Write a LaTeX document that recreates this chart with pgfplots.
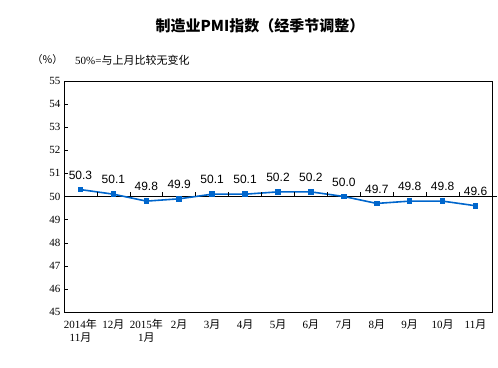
\documentclass[border=0pt]{standalone}
\usepackage{pgfplots}
\pgfplotsset{compat=1.18}
\usepackage{fontspec}
\setmainfont{Liberation Serif}
\newfontfamily\cjk{Noto Sans CJK SC}
\newfontfamily\arial{Liberation Sans}
\definecolor{lineblue}{RGB}{0,102,204}
\begin{document}
\begin{tikzpicture}
\useasboundingbox (0pt,0pt) rectangle (498pt,367pt);
\node[font=\cjk\bfseries\fontsize{15}{15}\selectfont] at (260pt,341pt) {制造业PMI指数（经季节调整）};
\node[font=\cjk\fontsize{10.5}{11}\selectfont, anchor=west, inner sep=0pt] at (32pt,307pt) {（\%）};
\node[font=\fontsize{11}{11}\selectfont, anchor=west, inner sep=0pt] at (75pt,307pt) {50\%={\cjk 与上月比较无变化}};
\begin{axis}[at={(64pt,55pt)}, anchor=south west, width=428pt, height=231pt, scale only axis,
  xmin=-0.5, xmax=12.5, ymin=45, ymax=55,
  ytick={45,...,55}, xtick={0,...,12},
  xticklabels={{2014{\cjk 年}\\11{\cjk 月}},{12{\cjk 月}},{2015{\cjk 年}\\1{\cjk 月}},{2{\cjk 月}},{3{\cjk 月}},{4{\cjk 月}},{5{\cjk 月}},{6{\cjk 月}},{7{\cjk 月}},{8{\cjk 月}},{9{\cjk 月}},{10{\cjk 月}},{11{\cjk 月}}},
  major x tick style={draw=none},
  x tick label style={align=center, font=\fontsize{11}{13}\selectfont, yshift=-4pt},
  y tick label style={font=\fontsize{11}{11}\selectfont},
  ytick style={black}, major tick length=4pt,
  tick align=inside,
  ytick pos=left,
  /pgf/number format/assume math mode=true,
  axis line style={black, line width=0.6pt},
  clip=false,
  nodes near coords, point meta=explicit symbolic,
  every node near coord/.append style={font=\arial\fontsize{12}{12}\selectfont, yshift=6pt, text=black},
]
\addplot[black, line width=0.6pt, forget plot, nodes near coords={}] coordinates {(-0.5,50) (12.65,50)};
\addplot[lineblue, line width=1.6pt, mark=square*, mark size=2pt, mark options={fill=lineblue}] coordinates {
(0,50.3)[50.3] (1,50.1)[50.1] (2,49.8)[49.8] (3,49.9)[49.9] (4,50.1)[50.1] (5,50.1)[50.1] (6,50.2)[50.2]
(7,50.2)[50.2] (8,50.0)[50.0] (9,49.7)[49.7] (10,49.8)[49.8] (11,49.8)[49.8] (12,49.6)[49.6]};
\end{axis}
\begin{axis}[at={(64pt,55pt)}, anchor=south west, width=428pt, height=231pt, scale only axis,
  xmin=-0.5, xmax=12.5, ymin=-5, ymax=5,
  axis x line=middle, axis y line=none,
  x axis line style={-, draw=none},
  xtick={0.5,1.5,...,11.5}, xticklabels={},
  xtick align=inside, major tick length=4pt,
  xtick style={black, line width=0.6pt},
]
\end{axis}
\end{tikzpicture}
\end{document}
